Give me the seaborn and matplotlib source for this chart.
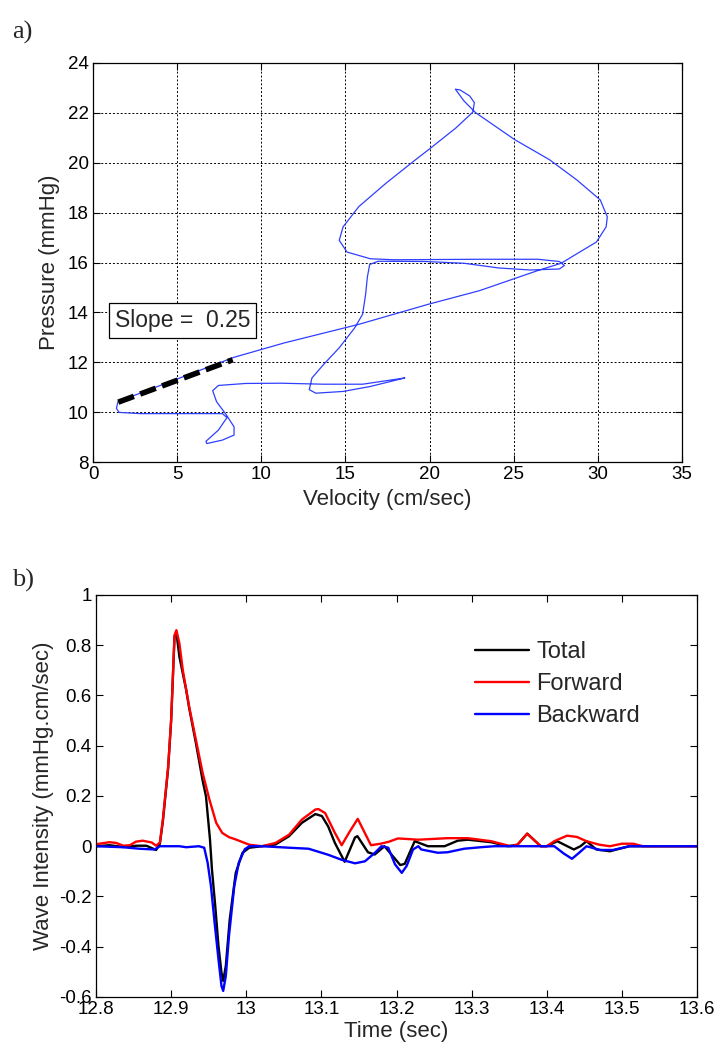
import numpy as np
import pandas as pd
import matplotlib
matplotlib.use("Agg")
import matplotlib.pyplot as plt
import seaborn as sns

# ---------------- Panel a data: pressure-velocity loop ----------------
velocity = [18.52, 16.02, 13.70, 11.16, 9.07, 7.45, 7.11, 7.34, 7.92, 8.38, 8.38, 7.69, 6.76,
            6.71, 7.45, 7.96, 7.69, 5.60, 2.82, 1.55, 1.39, 1.48, 8.38, 11.39, 15.79, 19.95,
            22.96, 26.44, 27.82, 28.75, 29.91, 30.49, 30.56, 30.14, 28.75, 27.13, 25.05, 23.89,
            22.73, 22.04, 21.53, 21.81, 22.38, 22.66, 22.57, 21.57, 19.95, 19.03, 17.41, 15.79,
            14.86, 14.63, 15.09, 16.48, 17.87, 22.96, 26.44, 27.71, 28.01, 27.71, 25.97, 24.12,
            22.04, 19.72, 16.94, 16.44, 16.30, 16.20, 16.02, 15.56, 14.63, 13.70, 13.01, 12.85,
            13.24, 14.86, 16.48, 18.52]
pressure = [11.37, 11.12, 11.12, 11.16, 11.15, 11.07, 10.86, 10.42, 9.89, 9.41, 9.08, 8.88, 8.74,
            8.83, 9.28, 9.78, 9.94, 9.94, 9.94, 9.99, 10.15, 10.42, 12.20, 12.78, 13.52, 14.33,
            14.87, 15.68, 15.97, 16.35, 16.82, 17.43, 17.83, 18.51, 19.31, 20.12, 20.93, 21.47,
            22.01, 22.48, 22.95, 22.92, 22.68, 22.41, 22.03, 21.40, 20.53, 20.05, 19.18, 18.24,
            17.43, 16.89, 16.42, 16.15, 16.11, 16.13, 16.13, 16.04, 15.88, 15.74, 15.70, 15.78,
            15.97, 16.04, 16.05, 15.92, 15.41, 14.73, 13.93, 13.39, 12.58, 11.91, 11.37, 10.90,
            10.76, 10.83, 11.03, 11.37]
slope_vel = [1.5, 8.3]
slope_pres = [10.4, 12.1]
slope_text = "Slope =  0.25"

a_xticks = [0, 5, 10, 15, 20, 25, 30, 35]
a_yticks = [8, 10, 12, 14, 16, 18, 20, 22, 24]

# ---------------- Panel b data: wave intensity ----------------
t_total = [12.800, 12.818, 12.836, 12.854, 12.867, 12.880, 12.885, 12.889, 12.896, 12.900, 12.9045,
           12.907, 12.911, 12.920, 12.924, 12.933, 12.942, 12.9464, 12.9517, 12.9543, 12.9587,
           12.963, 12.967, 12.9693, 12.9728, 12.978, 12.986, 12.995, 13.004, 13.021, 13.039,
           13.057, 13.074, 13.092, 13.1007, 13.109, 13.118, 13.131, 13.1448, 13.148, 13.162,
           13.171, 13.184, 13.198, 13.205, 13.211, 13.222, 13.2242, 13.2418, 13.264, 13.2815,
           13.295, 13.326, 13.348, 13.361, 13.374, 13.392, 13.400, 13.414, 13.436, 13.4449,
           13.453, 13.466, 13.484, 13.510, 13.600]
v_total = [0.000, 0.004, -0.003, 0.002, 0.002, -0.015, 0.010, 0.100, 0.310, 0.500, 0.835,
           0.850, 0.754, 0.622, 0.550, 0.410, 0.260, 0.198, 0.027, -0.092, -0.238,
           -0.397, -0.503, -0.536, -0.476, -0.291, -0.106, -0.026, -0.006, 0.000, 0.007,
           0.040, 0.093, 0.128, 0.120, 0.079, 0.013, -0.062, 0.035, 0.040, -0.024,
           -0.033, 0.000, -0.050, -0.075, -0.070, 0.005, 0.020, 0.000, 0.000, 0.022,
           0.026, 0.016, 0.000, 0.006, 0.050, 0.000, 0.000, 0.020, -0.013, 0.000,
           0.020, -0.013, -0.020, 0.000, 0.000]

t_forward = [12.800, 12.818, 12.827, 12.836, 12.845, 12.853, 12.862, 12.874, 12.880, 12.885,
             12.889, 12.896, 12.900, 12.9045, 12.907, 12.911, 12.9155, 12.924, 12.933, 12.942,
             12.951, 12.960, 12.968, 12.977, 12.986, 13.004, 13.021, 13.039, 13.057, 13.074,
             13.092, 13.096, 13.105, 13.118, 13.127, 13.137, 13.1484, 13.166, 13.179, 13.190,
             13.202, 13.229, 13.268, 13.295, 13.326, 13.352, 13.361, 13.374, 13.392, 13.400,
             13.410, 13.427, 13.440, 13.453, 13.470, 13.484, 13.500, 13.515, 13.528, 13.600]
v_forward = [0.008, 0.016, 0.013, 0.002, 0.004, 0.018, 0.022, 0.015, 0.002, 0.015,
             0.106, 0.317, 0.503, 0.840, 0.860, 0.807, 0.701, 0.556, 0.423, 0.291,
             0.185, 0.093, 0.053, 0.036, 0.027, 0.006, 0.000, 0.013, 0.046, 0.106,
             0.146, 0.148, 0.132, 0.053, 0.004, 0.055, 0.109, 0.004, 0.010, 0.018,
             0.031, 0.026, 0.032, 0.032, 0.020, 0.000, 0.006, 0.050, 0.000, 0.000,
             0.020, 0.042, 0.037, 0.020, 0.006, 0.000, 0.010, 0.010, 0.000, 0.000]

t_backward = [12.800, 12.836, 12.858, 12.878, 12.885, 12.907, 12.911, 12.920, 12.937, 12.944,
              12.9486, 12.953, 12.9574, 12.963, 12.967, 12.9693, 12.9728, 12.977, 12.984,
              12.990, 12.998, 13.004, 13.021, 13.057, 13.083, 13.109, 13.127, 13.1448, 13.158,
              13.171, 13.180, 13.189, 13.198, 13.207, 13.2134, 13.222, 13.229, 13.233, 13.255,
              13.268, 13.290, 13.312, 13.330, 13.410, 13.4226, 13.4336, 13.442, 13.453, 13.471,
              13.488, 13.510, 13.600]
v_backward = [0.000, -0.004, -0.010, -0.013, 0.000, 0.000, 0.000, -0.004, 0.000, -0.006,
              -0.066, -0.159, -0.291, -0.450, -0.556, -0.576, -0.516, -0.357, -0.159,
              -0.066, -0.012, 0.000, 0.000, -0.006, -0.010, -0.034, -0.054, -0.068, -0.060,
              -0.027, 0.000, -0.006, -0.072, -0.106, -0.079, -0.013, 0.000, -0.013, -0.026,
              -0.024, -0.010, -0.004, 0.000, 0.000, -0.029, -0.050, -0.029, 0.000, -0.015,
              -0.015, 0.000, 0.000]

series_names = ["Total", "Forward", "Backward"]
series_colors = ["#000000", "#ff0000", "#0000ff"]

b_xticks = [12.8, 12.9, 13.0, 13.1, 13.2, 13.3, 13.4, 13.5, 13.6]
b_xticklabels = ["12.8", "12.9", "13", "13.1", "13.2", "13.3", "13.4", "13.5", "13.6"]
b_yticks = [-0.6, -0.4, -0.2, 0.0, 0.2, 0.4, 0.6, 0.8, 1.0]
b_yticklabels = ["-0.6", "-0.4", "-0.2", "0", "0.2", "0.4", "0.6", "0.8", "1"]

# ---------------- Style ----------------
sns.set_style("ticks")
plt.rcParams['font.family'] = ['Liberation Sans', 'DejaVu Sans']
plt.rcParams['axes.unicode_minus'] = False

fig = plt.figure(figsize=(7.15, 10.57), dpi=100)
axA = fig.add_axes([0.1301, 0.5629, 0.8238, 0.3775])
axB = fig.add_axes([0.1343, 0.0568, 0.8405, 0.3803])

# ---------------- Panel a ----------------
dfA = pd.DataFrame({"Velocity": velocity, "Pressure": pressure})
axA.grid(True, color="black", linestyle=(0, (2, 2)), linewidth=0.7)
axA.set_axisbelow(True)
sns.lineplot(data=dfA, x="Velocity", y="Pressure", sort=False, estimator=None,
             color="#2f3fff", linewidth=0.9, ax=axA)
dfS = pd.DataFrame({"Velocity": slope_vel, "Pressure": slope_pres})
sns.lineplot(data=dfS, x="Velocity", y="Pressure", sort=False, estimator=None,
             color="black", linewidth=4.0, linestyle=(0, (3.0, 1.2)), ax=axA)
axA.text(1.3, 13.68, slope_text, ha="left", va="center", fontsize=16.5,
         bbox=dict(boxstyle="square,pad=0.25", facecolor="white", edgecolor="black", linewidth=0.9))
axA.set_xlim(0, 35)
axA.set_ylim(8, 24)
axA.set_xticks(a_xticks)
axA.set_yticks(a_yticks)
axA.set_xlabel("Velocity (cm/sec)", fontsize=16, labelpad=4)
axA.set_ylabel("Pressure (mmHg)", fontsize=16, labelpad=6)

# ---------------- Panel b ----------------
frames = []
for name, t, v in zip(series_names, [t_total, t_forward, t_backward],
                      [v_total, v_forward, v_backward]):
    frames.append(pd.DataFrame({"Time": t, "Intensity": v, "Series": name}))
dfB = pd.concat(frames, ignore_index=True)
sns.lineplot(data=dfB, x="Time", y="Intensity", hue="Series", hue_order=series_names,
             palette=dict(zip(series_names, series_colors)), estimator=None,
             linewidth=1.7, ax=axB)
axB.set_xlim(12.8, 13.6)
axB.set_ylim(-0.6, 1.0)
axB.set_xticks(b_xticks)
axB.set_xticklabels(b_xticklabels)
axB.set_yticks(b_yticks)
axB.set_yticklabels(b_yticklabels)
axB.set_xlabel("Time (sec)", fontsize=16, labelpad=2)
axB.set_ylabel("Wave Intensity (mmHg.cm/sec)", fontsize=16, labelpad=4)
axB.legend(loc="upper left", bbox_to_anchor=(0.63, 0.885), frameon=False, fontsize=17,
           handlelength=2.3, handletextpad=0.3, labelspacing=0.42, borderpad=0,
           borderaxespad=0)

for ax in (axA, axB):
    ax.tick_params(direction="in", length=5, width=0.8, labelsize=13.5, top=True, right=True,
                   colors="black", pad=3)
    for s in ax.spines.values():
        s.set_visible(True)
        s.set_color("black")
        s.set_linewidth(0.9)

fig.text(0.017, 0.9697, "a)", family=["Liberation Serif", "DejaVu Serif"], fontsize=19,
         ha="left", va="center")
fig.text(0.017, 0.4513, "b)", family=["Liberation Serif", "DejaVu Serif"], fontsize=19,
         ha="left", va="center")

fig.savefig("out.png", dpi=100)
